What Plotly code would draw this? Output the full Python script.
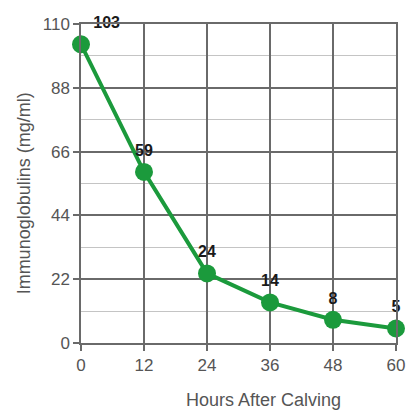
import plotly.graph_objects as go

hours = [0, 12, 24, 36, 48, 60]
igg = [103, 59, 24, 14, 8, 5]
labels = [str(v) for v in igg]
x_ticks = [0, 12, 24, 36, 48, 60]
y_ticks = [0, 22, 44, 66, 88, 110]
x_title = "Hours After Calving"
y_title = "Immunoglobulins (mg/ml)"

green = "#1b9a3c"
grid = "#6a6a6a"
txt = "#555555"
font_fam = "Liberation Sans, Arial, sans-serif"
positions = ["top right"] + ["top center"] * (len(hours) - 1)

fig = go.Figure()
fig.add_trace(go.Scatter(
    x=hours, y=igg, mode="lines+markers+text",
    line=dict(color=green, width=4),
    marker=dict(color=green, size=18),
    text=labels, textposition=positions,
    textfont=dict(family=font_fam, size=16, color="#1a1a1a", weight="bold"),
    cliponaxis=False, showlegend=False, hoverinfo="skip",
))

fig.update_layout(
    width=407, height=410,
    margin=dict(l=81, r=11, t=24, b=67, autoexpand=False),
    paper_bgcolor="white", plot_bgcolor="white",
    font=dict(family=font_fam, color=txt),
    annotations=[
        dict(text=x_title, xref="paper", yref="paper", x=0.58, y=-0.14,
             xanchor="center", yanchor="top", showarrow=False,
             font=dict(size=18, color=txt)),
        dict(text=y_title, xref="paper", yref="paper", x=-0.18, y=0.47,
             xanchor="center", yanchor="middle", textangle=-90, showarrow=False,
             font=dict(size=18, color=txt)),
    ],
)
fig.update_xaxes(
    range=[0, 60], tickvals=x_ticks, showgrid=True, gridcolor=grid, gridwidth=1.5,
    showline=True, linecolor=grid, linewidth=1.5, mirror=True, automargin=False,
    ticks="outside", ticklen=6, tickwidth=1.5, tickcolor=grid,
    tickfont=dict(size=17, color=txt), zeroline=False,
)
fig.update_yaxes(
    range=[0, 110], tickvals=y_ticks, showgrid=True, gridcolor=grid, gridwidth=1.5,
    showline=True, linecolor=grid, linewidth=1.5, mirror=True, automargin=False,
    ticks="outside", ticklen=6, tickwidth=1.5, tickcolor=grid,
    tickfont=dict(size=17, color=txt),
    minor=dict(dtick=11, showgrid=True, gridcolor="#c4c4c4", gridwidth=1),
    zeroline=False,
)

fig.write_html("out.html", config={"displayModeBar": False},
               post_script="document.body.style.margin='0px';")
